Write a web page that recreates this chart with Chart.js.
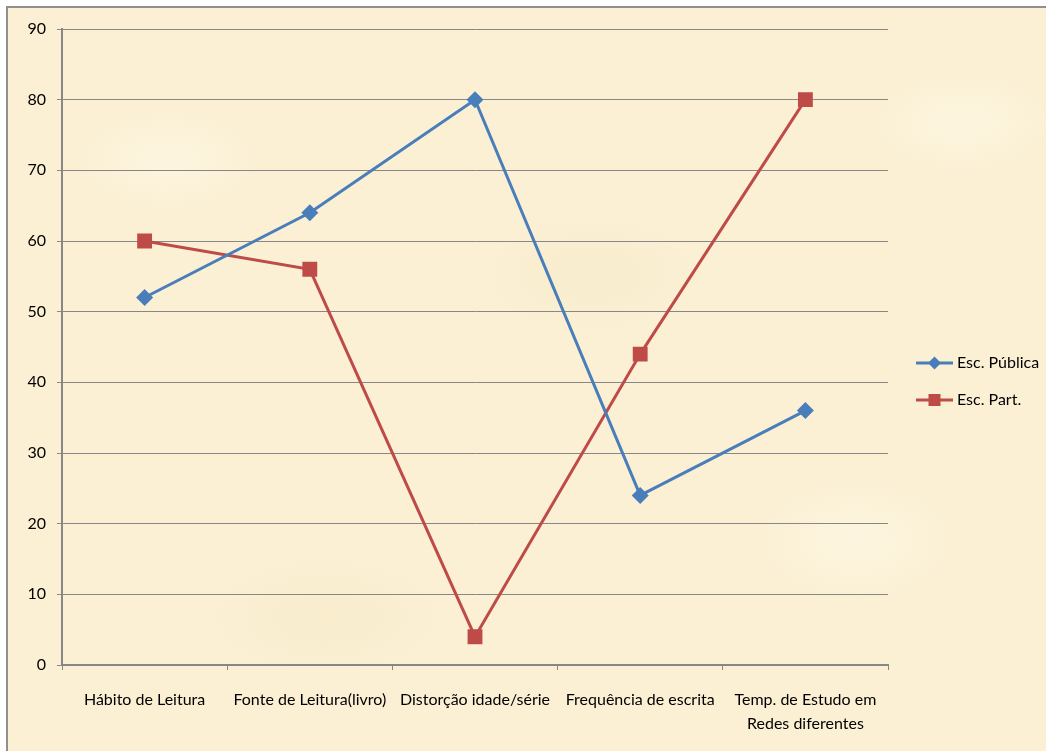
<!DOCTYPE html>
<html>
<head>
<meta charset="utf-8">
<script src="https://cdn.jsdelivr.net/npm/chart.js@4/dist/chart.umd.min.js"></script>
<style>
  html, body { margin: 0; padding: 0; background: #ffffff; overflow: hidden; }
  #frame {
    position: absolute; left: 6px; top: 6px; width: 1060px; height: 760px;
    border: 2px solid #8f8f8f;
    background-color: #fbf0d4;
    background-image:
      radial-gradient(ellipse 90px 50px at 15% 20%, rgba(255,250,235,0.5), rgba(255,250,235,0)),
      radial-gradient(ellipse 110px 60px at 55% 35%, rgba(240,224,185,0.25), rgba(240,224,185,0)),
      radial-gradient(ellipse 100px 60px at 80% 70%, rgba(255,250,235,0.5), rgba(255,250,235,0)),
      radial-gradient(ellipse 120px 60px at 30% 80%, rgba(240,224,185,0.25), rgba(240,224,185,0)),
      radial-gradient(ellipse 90px 50px at 90% 15%, rgba(255,250,235,0.5), rgba(255,250,235,0));
  }
  #wrap { position: absolute; left: 0; top: 0; width: 1046px; height: 751px; }
</style>
</head>
<body>
<div id="frame"></div>
<div id="wrap"><canvas id="chart" width="1046" height="751"></canvas></div>
<script>
// Categories and series
const categories = [
  'Hábito de Leitura',
  'Fonte de Leitura(livro)',
  'Distorção idade/série',
  'Frequência de escrita',
  ['Temp. de Estudo em', 'Redes diferentes']
];
const publicaValues = [52, 64, 80, 24, 36];
const particularValues = [60, 56, 4, 44, 80];
const seriesNames = ['Esc. Pública', 'Esc. Part.'];
const yTicks = [0, 10, 20, 30, 40, 50, 60, 70, 80, 90];

const FONT = "Lato, 'Liberation Sans', sans-serif";
const GRID = '#878787';
const BLUE = '#4a7ebb';
const RED = '#be4b48';

// Legend drawn on the right: line segment with marker, then the label
const sideLegend = {
  id: 'sideLegend',
  afterDraw(chart) {
    const ctx = chart.ctx;
    const x0 = 916, x1 = 953, tx = 957;
    const rows = [363, 400];
    chart.data.datasets.forEach((ds, i) => {
      const y = rows[i];
      const cx = (x0 + x1) / 2;
      ctx.save();
      ctx.strokeStyle = ds.borderColor;
      ctx.lineWidth = 3;
      ctx.beginPath();
      ctx.moveTo(x0, y);
      ctx.lineTo(x1, y);
      ctx.stroke();
      ctx.fillStyle = ds.pointBackgroundColor;
      ctx.beginPath();
      if (ds.pointStyle === 'rect') {
        ctx.rect(cx - 6, y - 6, 12, 12);
      } else {
        const r = 6.5;
        ctx.moveTo(cx, y - r); ctx.lineTo(cx + r, y); ctx.lineTo(cx, y + r); ctx.lineTo(cx - r, y);
        ctx.closePath();
      }
      ctx.fill();
      ctx.fillStyle = '#000000';
      ctx.font = '16px ' + FONT;
      ctx.textBaseline = 'middle';
      ctx.textAlign = 'left';
      ctx.fillText(ds.label, tx, y);
      ctx.restore();
    });
  }
};

new Chart(document.getElementById('chart'), {
  type: 'line',
  data: {
    labels: categories,
    datasets: [
      {
        label: seriesNames[0],
        data: publicaValues,
        borderColor: BLUE,
        backgroundColor: BLUE,
        pointBackgroundColor: BLUE,
        pointBorderColor: BLUE,
        borderWidth: 3,
        pointStyle: 'rectRot',
        pointRadius: 8.5,
        pointBorderWidth: 0,
        tension: 0
      },
      {
        label: seriesNames[1],
        data: particularValues,
        borderColor: RED,
        backgroundColor: RED,
        pointBackgroundColor: RED,
        pointBorderColor: RED,
        borderWidth: 3,
        pointStyle: 'rect',
        pointRadius: 10.5,
        pointBorderWidth: 0,
        tension: 0
      }
    ]
  },
  options: {
    responsive: false,
    animation: false,
    devicePixelRatio: 1,
    layout: { padding: { left: 0, right: 158, top: 29, bottom: 0 } },
    plugins: {
      legend: { display: false },
      tooltip: { enabled: false }
    },
    scales: {
      x: {
        type: 'category',
        offset: true,
        grid: {
          offset: true,
          drawOnChartArea: false,
          drawTicks: true,
          tickLength: 5,
          color: GRID,
          lineWidth: 1
        },
        border: { display: true, color: GRID, width: 2 },
        ticks: {
          color: '#000000',
          font: { family: FONT, size: 16, lineHeight: 1.5 },
          padding: 18,
          maxRotation: 0,
          autoSkip: false
        },
        afterFit(scale) { scale.height = 86; }
      },
      y: {
        min: 0,
        max: 90,
        afterBuildTicks(scale) { scale.ticks = yTicks.map(v => ({ value: v })); },
        grid: {
          color: GRID,
          lineWidth: 1,
          drawTicks: true,
          tickLength: 5
        },
        border: { display: true, color: GRID, width: 2 },
        ticks: {
          color: '#000000',
          font: { family: FONT, size: 16 },
          padding: 11
        },
        afterFit(scale) { scale.width = 62; }
      }
    }
  },
  plugins: [sideLegend]
});
</script>
</body>
</html>
